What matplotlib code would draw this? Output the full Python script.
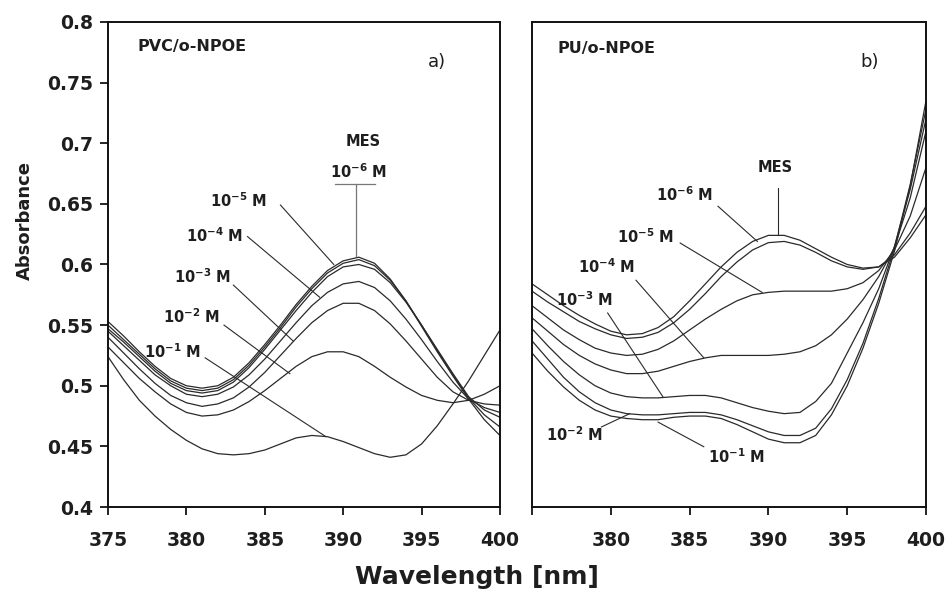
import numpy as np
import matplotlib
matplotlib.use("Agg")
import matplotlib.pyplot as plt

# wavelength grid (nm), one reading per nm
wavelength = list(range(375, 401))

# a) PVC/o-NPOE membranes
pvc_mes = [0.553, 0.541, 0.528, 0.516, 0.506, 0.500, 0.498, 0.500, 0.507, 0.519, 0.534, 0.550, 0.567,
           0.582, 0.595, 0.603, 0.606, 0.601, 0.588, 0.570, 0.549, 0.528, 0.508, 0.489, 0.472, 0.459]
pvc_1e6 = [0.550, 0.538, 0.526, 0.514, 0.504, 0.498, 0.496, 0.498, 0.505, 0.517, 0.532, 0.548, 0.565,
           0.580, 0.593, 0.601, 0.604, 0.599, 0.587, 0.570, 0.550, 0.529, 0.509, 0.490, 0.476, 0.466]
pvc_1e5 = [0.547, 0.536, 0.524, 0.512, 0.502, 0.496, 0.494, 0.496, 0.503, 0.515, 0.530, 0.546, 0.562,
           0.577, 0.590, 0.598, 0.600, 0.596, 0.585, 0.569, 0.550, 0.530, 0.510, 0.491, 0.480, 0.474]
pvc_1e4 = [0.545, 0.533, 0.521, 0.509, 0.500, 0.493, 0.491, 0.493, 0.499, 0.509, 0.522, 0.537, 0.552,
           0.566, 0.577, 0.584, 0.586, 0.581, 0.570, 0.555, 0.538, 0.520, 0.503, 0.489, 0.482, 0.478]
pvc_1e3 = [0.540, 0.527, 0.514, 0.502, 0.492, 0.486, 0.483, 0.485, 0.490, 0.499, 0.511, 0.525, 0.539,
           0.552, 0.562, 0.568, 0.568, 0.562, 0.551, 0.537, 0.522, 0.507, 0.495, 0.488, 0.485, 0.484]
pvc_1e2 = [0.532, 0.519, 0.506, 0.495, 0.485, 0.478, 0.475, 0.476, 0.480, 0.487, 0.496, 0.506, 0.516,
           0.524, 0.528, 0.528, 0.524, 0.516, 0.507, 0.499, 0.492, 0.488, 0.486, 0.488, 0.493, 0.500]
pvc_1e1 = [0.524, 0.505, 0.488, 0.475, 0.464, 0.455, 0.448, 0.444, 0.443, 0.444, 0.447, 0.452, 0.457,
           0.459, 0.458, 0.454, 0.449, 0.444, 0.441, 0.443, 0.452, 0.467, 0.485, 0.504, 0.525, 0.546]

# b) PU/o-NPOE membranes
pu_mes = [0.584, 0.575, 0.566, 0.558, 0.551, 0.545, 0.542, 0.543, 0.548, 0.557, 0.570, 0.584, 0.598,
          0.610, 0.619, 0.624, 0.624, 0.620, 0.613, 0.606, 0.600, 0.597, 0.598, 0.606, 0.622, 0.641]
pu_1e6 = [0.578, 0.569, 0.561, 0.553, 0.547, 0.542, 0.539, 0.540, 0.544, 0.552, 0.563, 0.576, 0.590,
          0.602, 0.612, 0.618, 0.619, 0.616, 0.610, 0.603, 0.598, 0.596, 0.598, 0.608, 0.626, 0.648]
pu_1e5 = [0.566, 0.556, 0.546, 0.538, 0.531, 0.527, 0.525, 0.526, 0.530, 0.537, 0.546, 0.555, 0.563,
          0.570, 0.575, 0.577, 0.578, 0.578, 0.578, 0.578, 0.580, 0.585, 0.595, 0.612, 0.640, 0.680]
pu_1e4 = [0.556, 0.545, 0.534, 0.525, 0.518, 0.513, 0.510, 0.510, 0.512, 0.516, 0.520, 0.523, 0.525,
          0.525, 0.525, 0.525, 0.526, 0.528, 0.533, 0.542, 0.555, 0.571, 0.590, 0.614, 0.655, 0.710]
pu_1e3 = [0.547, 0.533, 0.520, 0.509, 0.500, 0.494, 0.491, 0.490, 0.490, 0.491, 0.492, 0.492, 0.490,
          0.486, 0.482, 0.479, 0.477, 0.478, 0.487, 0.502, 0.527, 0.552, 0.580, 0.615, 0.662, 0.720]
pu_1e2 = [0.537, 0.522, 0.507, 0.495, 0.486, 0.480, 0.477, 0.476, 0.476, 0.477, 0.478, 0.478, 0.476,
          0.472, 0.467, 0.462, 0.459, 0.459, 0.465, 0.481, 0.505, 0.535, 0.572, 0.614, 0.666, 0.728]
pu_1e1 = [0.527, 0.512, 0.499, 0.488, 0.480, 0.475, 0.473, 0.472, 0.472, 0.474, 0.475, 0.475, 0.473,
          0.468, 0.462, 0.456, 0.453, 0.453, 0.459, 0.476, 0.500, 0.531, 0.568, 0.611, 0.665, 0.735]

y_ticks = [0.4, 0.45, 0.5, 0.55, 0.6, 0.65, 0.7, 0.75, 0.8]
y_tick_labels = ["0.4", "0.45", "0.5", "0.55", "0.6", "0.65", "0.7", "0.75", "0.8"]
x_ticks = [375, 380, 385, 390, 395, 400]

LINE = "#2a2a2a"
TXT = "#1e1e1e"


def conc(p):
    return r"10$^{\mathbf{-%d}}$ M" % p


# (text, text x, text y, leader start, leader end)
pvc_labels = [
    (conc(5), 383.3, 0.653, (386.0, 0.649), (389.4, 0.600)),
    (conc(4), 381.8, 0.624, (383.9, 0.623), (388.5, 0.573)),
    (conc(3), 381.0, 0.590, (383.0, 0.583), (386.8, 0.537)),
    (conc(2), 380.3, 0.557, (382.4, 0.550), (386.6, 0.510)),
    (conc(1), 379.1, 0.528, (381.2, 0.523), (388.9, 0.458)),
]
pu_labels = [
    (conc(6), 384.7, 0.6576, (386.8, 0.648), (389.3, 0.619)),
    (conc(5), 382.2, 0.623, (384.4, 0.6177), (389.6, 0.577)),
    (conc(4), 379.7, 0.598, (381.6, 0.587), (385.9, 0.523)),
    (conc(3), 378.3, 0.571, (379.8, 0.560), (383.3, 0.491)),
    (conc(2), 377.7, 0.460, (379.4, 0.466), (381.2, 0.477)),
    (conc(1), 388.0, 0.4415, (385.9, 0.4497), (383.0, 0.470)),
]


def style_axes(ax, show_y):
    ax.set_xlim(375, 400)
    ax.set_ylim(0.4, 0.8)
    for s in ax.spines.values():
        s.set_linewidth(1.4)
        s.set_color("#111111")
    ax.set_xticks(x_ticks)
    ax.set_xticklabels([str(t) for t in x_ticks], fontsize=13.5, fontweight="bold", color=TXT)
    ax.tick_params(axis="x", direction="out", length=6, width=1.2, pad=11)
    if show_y:
        ax.set_yticks(y_ticks)
        ax.set_yticklabels(y_tick_labels, fontsize=13.5, fontweight="bold", color=TXT)
        ax.tick_params(axis="y", direction="out", length=6, width=1.2, pad=5)
    else:
        ax.set_yticks([])


def draw_labels(ax, labels):
    for txt, tx, ty, p0, p1 in labels:
        ax.text(tx, ty, txt, fontsize=10.5, fontweight="bold", color=TXT, ha="center", va="center")
        ax.plot([p0[0], p1[0]], [p0[1], p1[1]], color=LINE, lw=0.8)


fig = plt.figure(figsize=(9.48, 5.93), dpi=100)
ax1 = fig.add_axes([0.1139, 0.145, 0.4135, 0.818])
ax2 = fig.add_axes([0.5612, 0.145, 0.4156, 0.818])

for ys in [pvc_mes, pvc_1e6, pvc_1e5, pvc_1e4, pvc_1e3, pvc_1e2, pvc_1e1]:
    ax1.plot(wavelength, ys, color=LINE, lw=0.9)
for ys in [pu_mes, pu_1e6, pu_1e5, pu_1e4, pu_1e3, pu_1e2, pu_1e1]:
    ax2.plot(wavelength, ys, color=LINE, lw=0.9)

style_axes(ax1, True)
style_axes(ax2, False)
ax2.set_xticks(x_ticks)
ax2.set_xticklabels([""] + [str(t) for t in x_ticks[1:]], fontsize=13.5, fontweight="bold", color=TXT)

# panel a) annotations
ax1.text(376.9, 0.780, "PVC/o-NPOE", fontsize=11.5, fontweight="bold", color=TXT, va="center")
ax1.text(396.0, 0.767, "a)", fontsize=13, color=TXT, ha="center", va="center")
ax1.text(391.3, 0.701, "MES", fontsize=10.5, fontweight="bold", color=TXT, ha="center", va="center")
ax1.text(391.0, 0.6765, conc(6), fontsize=10.5, fontweight="bold", color=TXT, ha="center", va="center")
ax1.plot([389.5, 392.0], [0.666, 0.666], color="#777777", lw=0.9)
ax1.plot([390.8, 390.8], [0.666, 0.607], color="#777777", lw=0.9)
draw_labels(ax1, pvc_labels)

# panel b) annotations
ax2.text(376.6, 0.778, "PU/o-NPOE", fontsize=11.5, fontweight="bold", color=TXT, va="center")
ax2.text(396.4, 0.767, "b)", fontsize=13, color=TXT, ha="center", va="center")
ax2.text(390.4, 0.6796, "MES", fontsize=10.5, fontweight="bold", color=TXT, ha="center", va="center")
ax2.plot([390.6, 390.6], [0.663, 0.6245], color=LINE, lw=0.8)
draw_labels(ax2, pu_labels)

fig.text(0.026, 0.629, "Absorbance", rotation=90, fontsize=13, fontweight="bold",
         color=TXT, ha="center", va="center")
fig.text(0.503, 0.027, "Wavelength [nm]", fontsize=18, fontweight="bold",
         color=TXT, ha="center", va="center")

fig.savefig("out.png", dpi=100)
